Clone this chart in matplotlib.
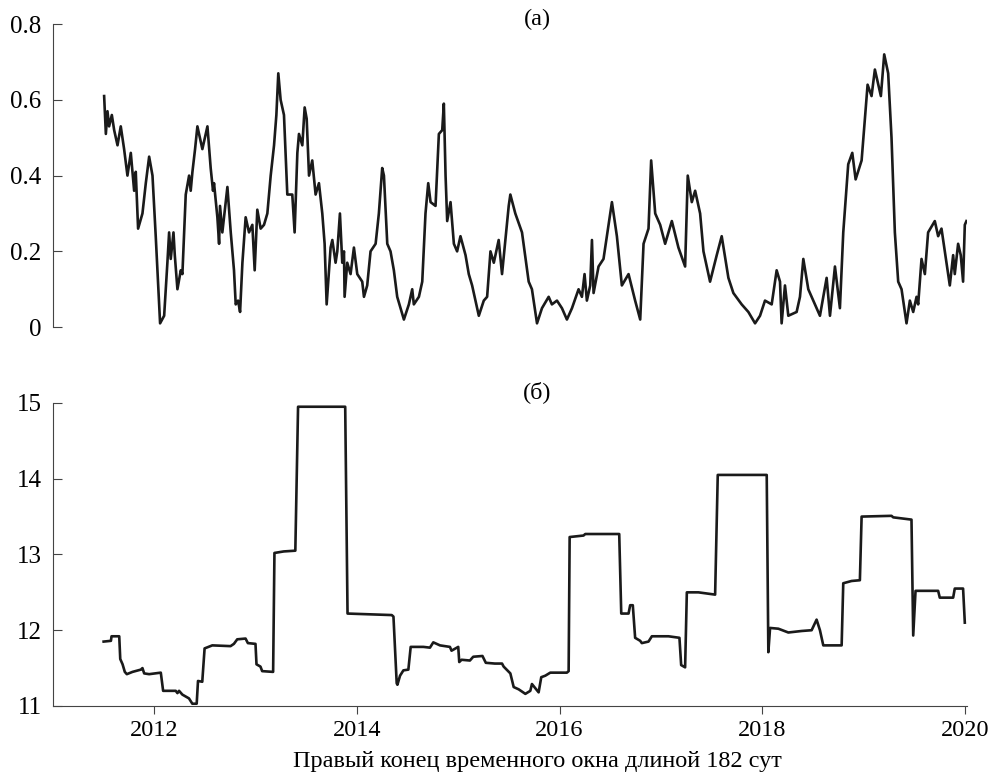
import matplotlib
matplotlib.use("Agg")
import matplotlib.pyplot as plt

plt.rcParams["font.family"] = ["Liberation Serif", "DejaVu Serif"]

# (а) — верхняя панель
years_a = [
    2011.507, 2011.524, 2011.540, 2011.556, 2011.583, 2011.606, 2011.639, 2011.671,
    2011.704, 2011.737, 2011.770, 2011.803, 2011.819, 2011.842, 2011.885, 2011.918,
    2011.951, 2011.984, 2012.016, 2012.059, 2012.099, 2012.131, 2012.148, 2012.164,
    2012.191, 2012.204, 2012.230, 2012.263, 2012.279, 2012.312, 2012.345, 2012.361,
    2012.378, 2012.404, 2012.427, 2012.476, 2012.526, 2012.558, 2012.581, 2012.591,
    2012.624, 2012.641, 2012.650, 2012.673, 2012.723, 2012.756, 2012.788, 2012.805,
    2012.828, 2012.848, 2012.871, 2012.903, 2012.936, 2012.969, 2012.992, 2013.018,
    2013.051, 2013.084, 2013.117, 2013.150, 2013.183, 2013.206, 2013.225, 2013.248,
    2013.281, 2013.314, 2013.363, 2013.386, 2013.413, 2013.429, 2013.462, 2013.485,
    2013.505, 2013.528, 2013.560, 2013.593, 2013.626, 2013.659, 2013.682, 2013.702,
    2013.741, 2013.758, 2013.790, 2013.807, 2013.833, 2013.856, 2013.873, 2013.879,
    2013.905, 2013.938, 2013.971, 2014.004, 2014.053, 2014.070, 2014.102, 2014.135,
    2014.185, 2014.217, 2014.250, 2014.267, 2014.300, 2014.332, 2014.365, 2014.398,
    2014.464, 2014.513, 2014.546, 2014.562, 2014.612, 2014.645, 2014.677, 2014.704,
    2014.727, 2014.776, 2014.809, 2014.842, 2014.858, 2014.875, 2014.891, 2014.924,
    2014.957, 2014.989, 2015.022, 2015.072, 2015.104, 2015.137, 2015.170, 2015.203,
    2015.252, 2015.285, 2015.318, 2015.351, 2015.399, 2015.432, 2015.498, 2015.514,
    2015.563, 2015.629, 2015.695, 2015.727, 2015.777, 2015.826, 2015.892, 2015.924,
    2015.974, 2016.023, 2016.072, 2016.122, 2016.187, 2016.220, 2016.246, 2016.269,
    2016.302, 2016.319, 2016.335, 2016.384, 2016.433, 2016.483, 2016.516, 2016.565,
    2016.614, 2016.680, 2016.745, 2016.795, 2016.828, 2016.877, 2016.903, 2016.943,
    2016.992, 2017.041, 2017.107, 2017.172, 2017.238, 2017.264, 2017.304, 2017.337,
    2017.386, 2017.419, 2017.484, 2017.550, 2017.599, 2017.665, 2017.714, 2017.796,
    2017.862, 2017.928, 2017.977, 2018.026, 2018.092, 2018.141, 2018.174, 2018.190,
    2018.223, 2018.256, 2018.338, 2018.371, 2018.404, 2018.453, 2018.519, 2018.568,
    2018.634, 2018.667, 2018.716, 2018.765, 2018.798, 2018.847, 2018.887, 2018.920,
    2018.979, 2019.011, 2019.038, 2019.077, 2019.110, 2019.169, 2019.202, 2019.241,
    2019.274, 2019.307, 2019.340, 2019.373, 2019.422, 2019.455, 2019.488, 2019.521,
    2019.537, 2019.570, 2019.603, 2019.635, 2019.701, 2019.734, 2019.767, 2019.816,
    2019.849, 2019.882, 2019.898, 2019.931, 2019.957, 2019.980, 2019.997, 2020.013,
]
values_a = [
    0.61, 0.51, 0.57, 0.53, 0.56, 0.52, 0.48, 0.53,
    0.47, 0.40, 0.46, 0.36, 0.41, 0.26, 0.30, 0.38,
    0.45, 0.40, 0.24, 0.01, 0.03, 0.17, 0.25, 0.18,
    0.25, 0.19, 0.10, 0.15, 0.14, 0.35, 0.40, 0.36,
    0.41, 0.47, 0.53, 0.47, 0.53, 0.42, 0.36, 0.38,
    0.29, 0.22, 0.32, 0.25, 0.37, 0.25, 0.15, 0.06,
    0.07, 0.04, 0.17, 0.29, 0.25, 0.27, 0.15, 0.31,
    0.26, 0.27, 0.30, 0.40, 0.48, 0.56, 0.67, 0.60,
    0.56, 0.35, 0.35, 0.25, 0.46, 0.51, 0.48, 0.58,
    0.55, 0.40, 0.44, 0.35, 0.38, 0.30, 0.22, 0.06,
    0.21, 0.23, 0.17, 0.20, 0.30, 0.17, 0.20, 0.08,
    0.17, 0.14, 0.21, 0.14, 0.12, 0.08, 0.11, 0.20,
    0.22, 0.30, 0.42, 0.40, 0.22, 0.20, 0.15, 0.08,
    0.02, 0.06, 0.10, 0.06, 0.08, 0.12, 0.30, 0.38,
    0.33, 0.32, 0.51, 0.52, 0.59, 0.40, 0.28, 0.33,
    0.22, 0.20, 0.24, 0.19, 0.14, 0.11, 0.07, 0.03,
    0.07, 0.08, 0.20, 0.17, 0.23, 0.14, 0.32, 0.35,
    0.30, 0.25, 0.12, 0.10, 0.01, 0.05, 0.08, 0.06,
    0.07, 0.05, 0.02, 0.05, 0.10, 0.08, 0.14, 0.07,
    0.11, 0.23, 0.09, 0.16, 0.18, 0.27, 0.33, 0.24,
    0.11, 0.14, 0.07, 0.02, 0.22, 0.26, 0.44, 0.30,
    0.27, 0.22, 0.28, 0.21, 0.16, 0.40, 0.33, 0.36,
    0.30, 0.20, 0.12, 0.19, 0.24, 0.13, 0.09, 0.06,
    0.04, 0.01, 0.03, 0.07, 0.06, 0.15, 0.12, 0.01,
    0.11, 0.03, 0.04, 0.08, 0.18, 0.10, 0.06, 0.03,
    0.13, 0.03, 0.16, 0.05, 0.25, 0.43, 0.46, 0.39,
    0.44, 0.55, 0.64, 0.61, 0.68, 0.61, 0.72, 0.67,
    0.50, 0.25, 0.12, 0.10, 0.01, 0.07, 0.04, 0.08,
    0.06, 0.18, 0.14, 0.25, 0.28, 0.24, 0.26, 0.17,
    0.11, 0.19, 0.14, 0.22, 0.19, 0.12, 0.27, 0.28,
]

# (б) — нижняя панель
years_b = [
    2011.502, 2011.574, 2011.580, 2011.656, 2011.666, 2011.689, 2011.711, 2011.731,
    2011.787, 2011.869, 2011.885, 2011.902, 2011.951, 2012.066, 2012.089, 2012.213,
    2012.230, 2012.246, 2012.279, 2012.344, 2012.377, 2012.420, 2012.433, 2012.475,
    2012.498, 2012.574, 2012.754, 2012.787, 2012.820, 2012.902, 2012.925, 2013.000,
    2013.010, 2013.049, 2013.066, 2013.174, 2013.187, 2013.279, 2013.393, 2013.420,
    2013.885, 2013.908, 2014.344, 2014.361, 2014.393, 2014.400, 2014.426, 2014.459,
    2014.508, 2014.531, 2014.656, 2014.721, 2014.754, 2014.820, 2014.918, 2014.934,
    2015.000, 2015.010, 2015.033, 2015.115, 2015.148, 2015.239, 2015.272, 2015.361,
    2015.432, 2015.448, 2015.514, 2015.547, 2015.596, 2015.662, 2015.711, 2015.727,
    2015.793, 2015.819, 2015.859, 2015.908, 2016.072, 2016.089, 2016.099, 2016.236,
    2016.253, 2016.588, 2016.608, 2016.680, 2016.696, 2016.722, 2016.745, 2016.795,
    2016.811, 2016.877, 2016.910, 2017.074, 2017.182, 2017.199, 2017.238, 2017.255,
    2017.369, 2017.534, 2017.560, 2018.043, 2018.059, 2018.076, 2018.158, 2018.256,
    2018.388, 2018.486, 2018.535, 2018.568, 2018.601, 2018.782, 2018.798, 2018.880,
    2018.962, 2018.979, 2019.274, 2019.291, 2019.471, 2019.488, 2019.511, 2019.734,
    2019.750, 2019.882, 2019.898, 2019.980, 2019.997,
]
values_b = [
    11.85, 11.86, 11.92, 11.92, 11.62, 11.55, 11.45, 11.42,
    11.45, 11.48, 11.50, 11.43, 11.42, 11.44, 11.20, 11.20,
    11.17, 11.20, 11.15, 11.10, 11.03, 11.03, 11.33, 11.32,
    11.76, 11.80, 11.79, 11.82, 11.88, 11.89, 11.83, 11.82,
    11.55, 11.52, 11.46, 11.45, 13.02, 13.04, 13.05, 14.95,
    14.95, 12.22, 12.20, 12.18, 11.30, 11.28, 11.40, 11.47,
    11.48, 11.78, 11.78, 11.77, 11.84, 11.80, 11.78, 11.73,
    11.78, 11.58, 11.61, 11.60, 11.65, 11.66, 11.57, 11.56,
    11.56, 11.52, 11.43, 11.25, 11.22, 11.16, 11.20, 11.29,
    11.18, 11.38, 11.40, 11.44, 11.44, 11.46, 13.23, 13.25,
    13.27, 13.27, 12.22, 12.22, 12.33, 12.33, 11.90, 11.86,
    11.83, 11.85, 11.92, 11.92, 11.90, 11.54, 11.51, 12.50,
    12.50, 12.47, 14.05, 14.05, 11.71, 12.03, 12.02, 11.97,
    11.99, 12.00, 12.14, 12.00, 11.80, 11.80, 12.62, 12.65,
    12.66, 13.50, 13.51, 13.49, 13.46, 11.93, 12.52, 12.52,
    12.43, 12.43, 12.55, 12.55, 12.10,
]

yticks_a = [0, 0.2, 0.4, 0.6, 0.8]
ytick_labels_a = ["0", "0.2", "0.4", "0.6", "0.8"]
yticks_b = [11, 12, 13, 14, 15]
xticks = [2012, 2014, 2016, 2018, 2020]

LINE = "#1a1a1a"
SPINE = "#444444"

fig = plt.figure(figsize=(9.95, 7.77), dpi=100)
ax1 = fig.add_axes([0.053, 0.579, 0.919, 0.390])
ax2 = fig.add_axes([0.053, 0.0914, 0.919, 0.390])

ax1.plot(years_a, values_a, color=LINE, lw=1.9)
ax2.plot(years_b, values_b, color=LINE, lw=1.9)

for ax in (ax1, ax2):
    ax.set_xlim(2011.0, 2020.02)
    for s in ("top", "right"):
        ax.spines[s].set_visible(False)
    for s in ("left", "bottom"):
        ax.spines[s].set_linewidth(0.8)
        ax.spines[s].set_color(SPINE)
    ax.tick_params(axis="y", direction="in", length=6.5, width=0.8, color=SPINE,
                   pad=8, labelsize=18)

ax1.set_ylim(0, 0.8)
ax1.set_yticks(yticks_a)
ax1.set_yticklabels(ytick_labels_a)
ax1.spines["bottom"].set_visible(False)
ax1.set_xticks([])

ax2.set_ylim(11, 15)
ax2.set_yticks(yticks_b)
ax2.set_xticks(xticks)
ax2.set_xticklabels([str(x) for x in xticks])
ax2.tick_params(axis="x", direction="out", length=6, width=0.8, color=SPINE,
                pad=4, labelsize=17.5)

ax1.text(0.530, 1.016, "(а)", transform=ax1.transAxes, ha="center", va="center", fontsize=17.5)
ax2.text(0.530, 1.036, "(б)", transform=ax2.transAxes, ha="center", va="center", fontsize=17.5)

fig.text(0.540, 0.020, "Правый конец временного окна длиной 182 сут",
         ha="center", va="center", fontsize=17.5)

fig.savefig("out.png", dpi=100)
plt.close(fig)
